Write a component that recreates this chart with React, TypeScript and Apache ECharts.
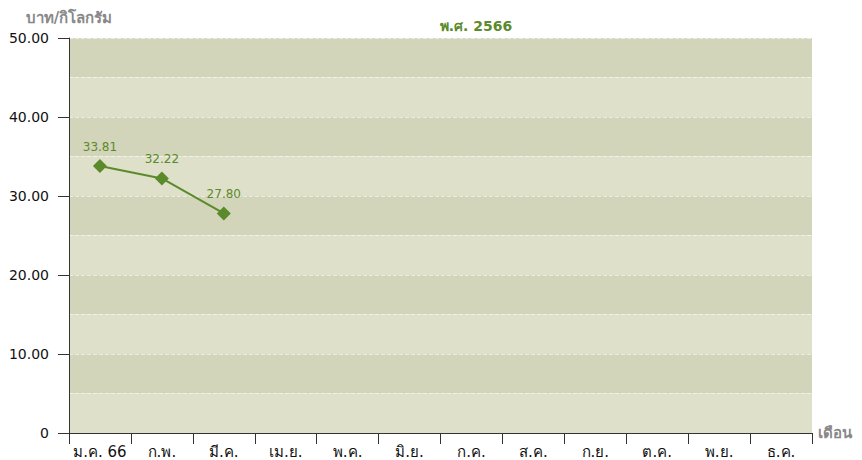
import React, { useEffect, useRef } from "react";
import * as echarts from "echarts";

const months = ["ม.ค. 66", "ก.พ.", "มี.ค.", "เม.ย.", "พ.ค.", "มิ.ย.", "ก.ค.", "ส.ค.", "ก.ย.", "ต.ค.", "พ.ย.", "ธ.ค."];
const prices: (number | null)[] = [33.81, 32.22, 27.8, null, null, null, null, null, null, null, null, null];
const titleText = "พ.ศ. 2566";
const yName = "บาท/กิโลกรัม";
const xName = "เดือน";

const GREEN = "#5b8a2b";
const FONT = "'DejaVu Sans', Tahoma, sans-serif";

export default function App() {
  const ref = useRef<HTMLDivElement>(null);
  useEffect(() => {
    if (!ref.current) return;
    const chart = echarts.init(ref.current, undefined, { renderer: "svg" });
    chart.setOption({
      animation: false,
      title: {
        text: titleText,
        left: 471,
        top: 14,
        textAlign: "center",
        textStyle: { color: GREEN, fontSize: 14, fontWeight: "bold", fontFamily: FONT },
      },
      grid: { left: 69, right: 50, top: 38, bottom: 27 },
      graphic: [
        {
          type: "rect",
          shape: { x: 317.5, y: 117.5, width: 248, height: 13 },
          style: { fill: "none", stroke: "#e6e8d6", lineWidth: 1 },
        },
      ],
      xAxis: {
        type: "category",
        data: months,
        boundaryGap: true,
        name: xName,
        nameLocation: "end",
        nameGap: 6,
        nameTextStyle: { color: "#888", fontSize: 15, fontWeight: "bold", fontFamily: FONT, verticalAlign: "middle" },
        axisLine: { lineStyle: { color: "#333", width: 1 } },
        axisTick: { show: true, length: 11, alignWithLabel: false, lineStyle: { color: "#333" } },
        axisLabel: { color: "#111", fontSize: 15, fontFamily: FONT, margin: 11, interval: 0 },
        splitLine: { show: false },
      },
      yAxis: [
        {
          type: "value",
          min: 0,
          max: 50,
          interval: 10,
          name: yName,
          nameLocation: "end",
          nameGap: 13,
          nameTextStyle: { color: "#888", fontSize: 15, fontWeight: "bold", fontFamily: FONT, align: "center" },
          axisLine: { show: true, lineStyle: { color: "#333", width: 1 } },
          axisTick: { show: true, length: 11, lineStyle: { color: "#333" } },
          axisLabel: {
            color: "#111",
            fontSize: 14,
            fontFamily: FONT,
            margin: 20,
            formatter: (v: number) => (v === 0 ? "0" : v.toFixed(2)),
          },
          splitLine: { show: false },
          z: 3,
        },
        {
          type: "value",
          min: 0,
          max: 50,
          interval: 5,
          position: "left",
          axisLine: { show: false },
          axisTick: { show: false },
          axisLabel: { show: false },
          splitLine: { show: true, lineStyle: { color: "rgba(255,255,255,0.55)", type: "dashed", width: 1 } },
          splitArea: { show: true, areaStyle: { color: ["#dee0ca", "#d2d5b9"] } },
        },
      ],
      series: [
        {
          type: "line",
          data: prices,
          yAxisIndex: 0,
          symbol: "diamond",
          symbolSize: 14,
          lineStyle: { color: GREEN, width: 2 },
          itemStyle: { color: GREEN },
          label: {
            show: true,
            position: "top",
            distance: 6,
            color: GREEN,
            fontSize: 12,
            fontFamily: FONT,
            formatter: (p: any) => Number(p.value).toFixed(2),
          },
          z: 5,
        },
      ],
    });
    return () => chart.dispose();
  }, []);
  return <div ref={ref} style={{ width: 862, height: 460, position: "absolute", left: 0, top: 0 }} />;
}
